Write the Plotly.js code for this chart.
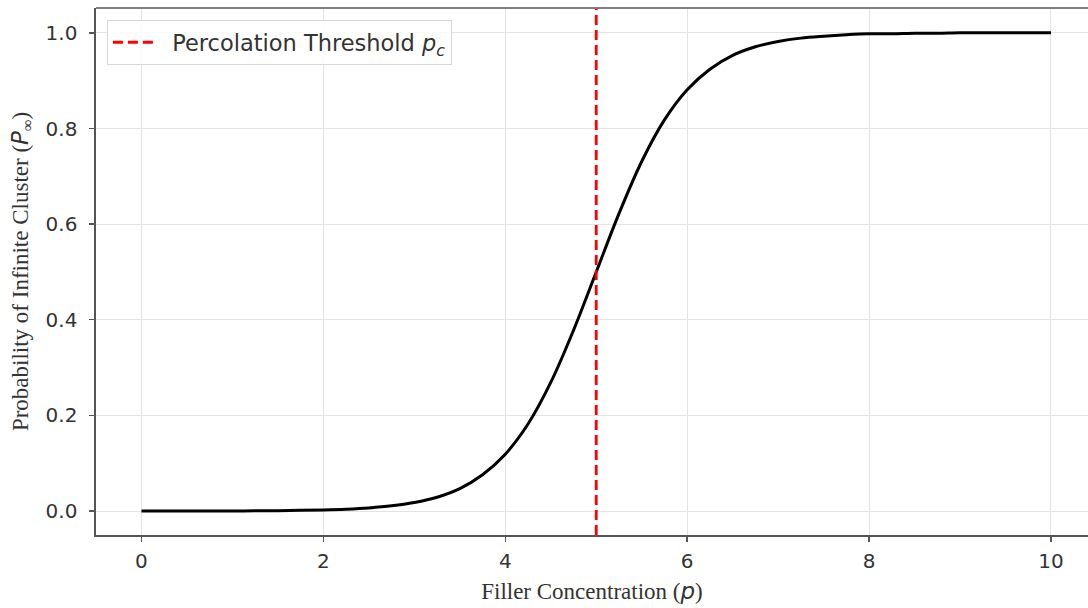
<!DOCTYPE html>
<html>
<head>
<meta charset="utf-8">
<script src="https://cdn.plot.ly/plotly-3.0.1.min.js"></script>
<style>html,body{margin:0;padding:0;background:#fff;}#chart{width:1088px;height:608px;}</style>
</head>
<body>
<div id="chart"></div>
<script>
// Filler concentration p (x) and probability of infinite cluster P_inf (y)
const concentration = [0,0.25,0.5,0.75,1,1.25,1.5,1.75,2,2.25,2.5,2.75,3,3.25,3.5,3.75,4,4.25,4.5,4.75,5,5.25,5.5,5.75,6,6.25,6.5,6.75,7,7.25,7.5,7.75,8,8.25,8.5,8.75,9,9.25,9.5,9.75,10];
const probability = [0.0000,0.0001,0.0001,0.0002,0.0003,0.0006,0.0009,0.0015,0.0025,0.0041,0.0067,0.011,0.018,0.029,0.047,0.076,0.119,0.182,0.269,0.378,0.500,0.622,0.731,0.818,0.881,0.924,0.953,0.971,0.982,0.989,0.993,0.996,0.998,0.998,0.999,0.999,1.000,1.000,1.000,1.000,1.000];
const thresholdX = [5, 5];
const thresholdY = [-0.05, 1.05];
const thresholdName = '\u00a0\u00a0Percolation Threshold <i>p</i><sub><i>c</i></sub>';
const xTicks = [0, 2, 4, 6, 8, 10];
const yTicks = [0.0, 0.2, 0.4, 0.6, 0.8, 1.0];
const yTickLabels = ['0.0', '0.2', '0.4', '0.6', '0.8', '1.0'];

const traces = [
  {
    x: concentration, y: probability, type: 'scatter', mode: 'lines',
    line: {color: '#000000', width: 3, shape: 'spline', smoothing: 1},
    showlegend: false, hoverinfo: 'skip'
  },
  {
    x: thresholdX, y: thresholdY, type: 'scatter', mode: 'lines',
    name: thresholdName,
    line: {color: '#ff0000', width: 2.8, dash: '10px,5px'}
  }
];

const tickFont = {family: 'DejaVu Sans, sans-serif', size: 20, color: '#333333'};
const titleFont = {family: 'Liberation Serif, Times New Roman, serif', size: 23, color: '#333333'};
const mathStyle = 'font-family:DejaVu Sans,sans-serif;font-style:italic';

const layout = {
  width: 1088, height: 608,
  margin: {l: 96, r: 0, t: 8, b: 73, pad: 0},
  paper_bgcolor: '#ffffff', plot_bgcolor: '#ffffff',
  showlegend: true,
  legend: {
    x: 0.011, y: 0.977, xanchor: 'left', yanchor: 'top',
    bgcolor: 'rgba(255,255,255,0.85)', bordercolor: '#d6d6d6', borderwidth: 1,
    font: {family: 'DejaVu Sans, sans-serif', size: 22.5, color: '#333333'},
    itemwidth: 40, tracegroupgap: 0
  },
  xaxis: {
    range: [-0.5, 10.407], tickvals: xTicks, ticktext: xTicks.map(String),
    showgrid: true, gridcolor: '#e3e3e3', gridwidth: 1, zeroline: false,
    showline: true, linecolor: '#555555', linewidth: 1.6,
    ticks: 'outside', ticklen: 5, tickwidth: 1.4, tickcolor: '#555555',
    ticklabelstandoff: 2,
    tickfont: tickFont,
    title: {text: 'Filler Concentration (<span style="' + mathStyle + '">p</span>)', font: titleFont, standoff: 11}
  },
  yaxis: {
    range: [-0.05, 1.052], tickvals: yTicks, ticktext: yTickLabels,
    showgrid: true, gridcolor: '#e3e3e3', gridwidth: 1, zeroline: false,
    showline: true, linecolor: '#555555', linewidth: 1.6,
    ticks: 'outside', ticklen: 5, tickwidth: 1.4, tickcolor: '#555555',
    ticklabelstandoff: 8,
    tickfont: tickFont,
    title: {text: 'Probability of Infinite Cluster (<span style="' + mathStyle + '">P</span><sub>∞</sub>)', font: titleFont, standoff: 10}
  },
  shapes: [
    {type: 'line', xref: 'paper', yref: 'paper', x0: 0, x1: 1, y0: 1, y1: 1,
     line: {color: '#555555', width: 1.6}}
  ]
};

Plotly.newPlot('chart', traces, layout, {displayModeBar: false, staticPlot: true});
</script>
</body>
</html>
